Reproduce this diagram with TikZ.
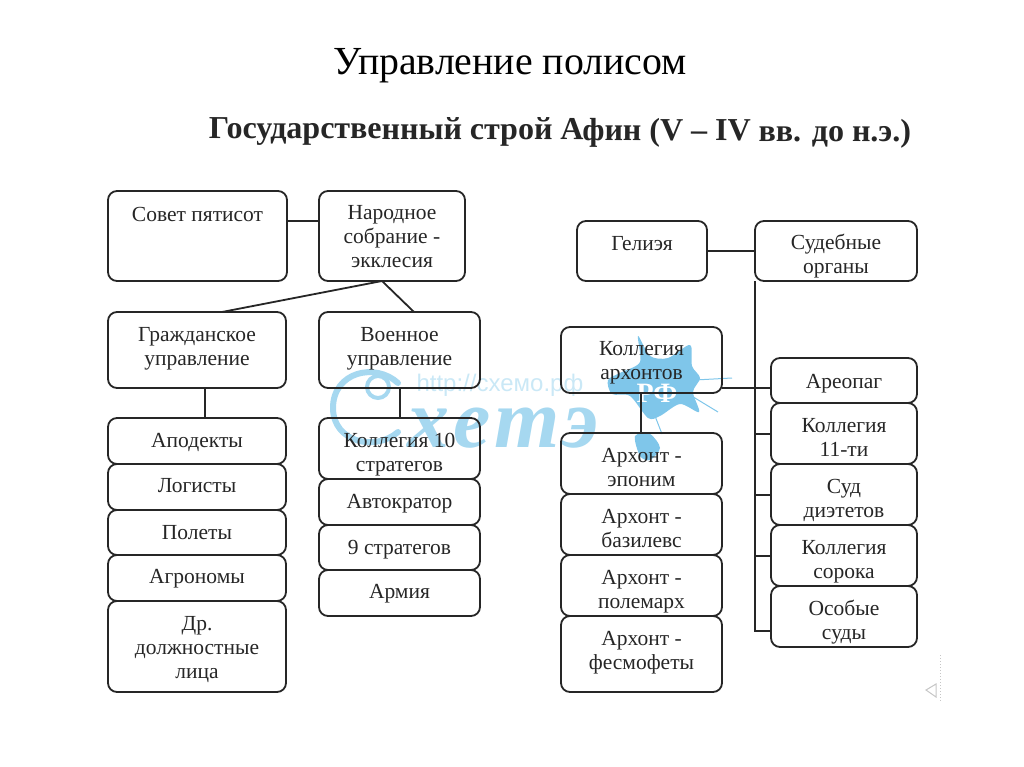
\documentclass[tikz,border=0pt]{standalone}
\usepackage{fontspec}
\setmainfont{Liberation Serif}
\newfontfamily\urlfont{Liberation Sans}
\usetikzlibrary{calc,positioning}
\definecolor{inkcol}{HTML}{262626}
\definecolor{wmcol}{HTML}{A6D8F0}
\definecolor{splashcol}{HTML}{7FC6EA}
\tikzset{
    orgbox/.style={draw=inkcol,line width=1.8pt,rounded corners=9pt,inner sep=0pt,outer sep=0pt,
        text=inkcol,font=\fontsize{21.5}{24}\selectfont},
    conn/.style={draw=inkcol,line width=1.8pt},
    wmline/.style={draw=wmcol,line width=6pt,line cap=round}
}
% box from its edges: [text shift up]{name}{left}{top}{right}{bottom}{text}
\newcommand{\cbox}[6][0]{%
    \node[orgbox,minimum width={(#5-#3)*1pt},minimum height={(#6-#4)*1pt}]
        (#2) at ({(#3+#5)/2},{(#4+#6)/2}) {\cboxtext{#1}{#2}};}
\newcommand{\cboxtext}[2]{\smash{\raisebox{\dimexpr#1pt-8pt\relax}{\begin{tabular}{@{}c@{}}\csname txt#2\endcsname\end{tabular}}}}
\newcommand{\settxt}[2]{\expandafter\def\csname txt#1\endcsname{#2}}
\settxt{sovet}{Совет пятисот}
\settxt{narod}{Народное\\собрание -\\экклесия}
\settxt{grazhd}{Гражданское\\управление}
\settxt{voen}{Военное\\управление}
\settxt{apodekty}{Аподекты}
\settxt{logisty}{Логисты}
\settxt{polety}{Полеты}
\settxt{agronomy}{Агрономы}
\settxt{drugie}{Др.\\должностные\\лица}
\settxt{strategi}{Коллегия 10\\стратегов}
\settxt{avtokrator}{Автократор}
\settxt{devyat}{9 стратегов}
\settxt{armiya}{Армия}
\settxt{geliya}{Гелиэя}
\settxt{sudy}{Судебные\\органы}
\settxt{arhonty}{Коллегия\\архонтов}
\settxt{eponim}{Архонт -\\эпоним}
\settxt{bazilevs}{Архонт -\\базилевс}
\settxt{polemarh}{Архонт -\\полемарх}
\settxt{fesmofety}{Архонт -\\фесмофеты}
\settxt{areopag}{Ареопаг}
\settxt{odinn}{Коллегия\\11-ти}
\settxt{dietety}{Суд\\диэтетов}
\settxt{soroka}{Коллегия\\сорока}
\settxt{osobye}{Особые\\суды}
\begin{document}
\begin{tikzpicture}[x=1pt,y=-1pt]
    \useasboundingbox (0,0) rectangle (1024,767);

    % watermark
    \draw[wmline] (398,383) .. controls (375,362) and (333,372) .. (333,408) .. controls (333,442) and (375,452) .. (398,432);
    \draw[wmcol,line width=4pt] (378,387) circle (11);
    \node[text=wmcol,font=\fontsize{84}{84}\bfseries\itshape\selectfont\addfontfeature{LetterSpace=5},anchor=base west] (wmname) at (404,447) {хетэ};
    \node[text=wmcol!60,font=\urlfont\fontsize{24}{24}\selectfont,anchor=base west] (wmurl) at (413,391) {http://схемо.рф};
    \fill[splashcol] plot [smooth cycle] coordinates {(622,372)(640,362)(638,336)(650,356)(668,358)(690,345)(692,366)(700,378)(693,392)(699,412)(680,404)(660,416)(648,418)(630,396)(612,394)(608,380)};
    \fill[splashcol] plot [smooth cycle] coordinates {(635,436)(650,434)(660,448)(650,460)(640,456)};
    \draw[splashcol,line width=1pt] (695,380) -- (732,378);
    \draw[splashcol,line width=1pt] (690,395) -- (718,412);
    \draw[splashcol,line width=1pt] (655,416) -- (662,434);
    \node[text=white,font=\fontsize{28}{28}\bfseries\selectfont] (wmrf) at (657,393) {РФ};

    % titles
    \node[text=black,font=\fontsize{39.8}{44}\selectfont,anchor=base] (title) at (510,75) {Управление полисом};
    \node[text=inkcol,font=\fontsize{32}{36}\bfseries\selectfont,anchor=base,rotate=-0.3] (subtitle) at (560,140) {Государственный строй Афин (V – IV вв. до н.э.)};

    % left part
    \cbox[22]{sovet}{108}{191}{287}{281}
    \cbox{narod}{319}{191}{465}{281}
    \cbox[4]{grazhd}{108}{312}{286}{388}
    \cbox[4]{voen}{319}{312}{480}{388}
    \cbox[1]{apodekty}{108}{418}{286}{464}
    \cbox[2]{logisty}{108}{464}{286}{510}
    \cbox[1]{polety}{108}{510}{286}{555}
    \cbox[2]{agronomy}{108}{555}{286}{601}
    \cbox{drugie}{108}{601}{286}{692}
    \cbox[-3]{strategi}{319}{418}{480}{479}
    \cbox[1]{avtokrator}{319}{479}{480}{525}
    \cbox[1]{devyat}{319}{525}{480}{570}
    \cbox[2]{armiya}{319}{570}{480}{616}

    % right part
    \cbox[8]{geliya}{577}{221}{707}{281}
    \cbox[-3]{sudy}{755}{221}{917}{281}
    \cbox{arhonty}{561}{327}{722}{393}
    \cbox[-3]{eponim}{561}{433}{722}{494}
    \cbox[-3]{bazilevs}{561}{494}{722}{555}
    \cbox[-3]{polemarh}{561}{555}{722}{616}
    \cbox[4]{fesmofety}{561}{616}{722}{692}
    \cbox{areopag}{771}{358}{917}{403}
    \cbox[-3]{odinn}{771}{403}{917}{464}
    \cbox[-3]{dietety}{771}{464}{917}{525}
    \cbox[-3]{soroka}{771}{525}{917}{586}
    \cbox[-3]{osobye}{771}{586}{917}{647}

    % connect points
    \coordinate (sovetout) at (287,221);
    \coordinate (narodout) at (382,281);
    \coordinate (grazhdin) at (222,312);
    \coordinate (voenin) at (414,312);
    \coordinate (grazhdout) at (205,388);
    \coordinate (voenout) at (400,388);
    \coordinate (arhout) at (641,393);
    \coordinate (arhside) at (722,388);
    \coordinate (trunk) at (755,281);
    \coordinate (osobin) at (771,631);
    \coordinate (odinnin) at (771,434);
    \coordinate (dietin) at (771,495);
    \coordinate (sorokain) at (771,556);

    \draw[conn] (sovetout) -- (sovetout -| narod.west);
    \draw[conn] (narodout) -- (grazhdin);
    \draw[conn] (narodout) -- (voenin);
    \draw[conn] (grazhdout) -- (grazhdout |- apodekty.north);
    \draw[conn] (voenout) -- (voenout |- strategi.north);
    \draw[conn] (geliya.east) -- (sudy.west);
    \draw[conn] (arhout) -- (arhout |- eponim.north);
    \draw[conn] (arhside) -- (arhside -| areopag.west);
    \draw[conn] (trunk) -- (trunk |- osobin) -- (osobin);
    \draw[conn] (trunk |- odinnin) -- (odinnin);
    \draw[conn] (trunk |- dietin) -- (dietin);
    \draw[conn] (trunk |- sorokain) -- (sorokain);

    % slide arrow mark
    \draw[gray!45,line width=1pt] (936,684) -- (926,690) -- (936,697) -- cycle;
    \draw[gray!45,line width=1pt,dotted] (940,655) -- (940,702);
\end{tikzpicture}
\end{document}
